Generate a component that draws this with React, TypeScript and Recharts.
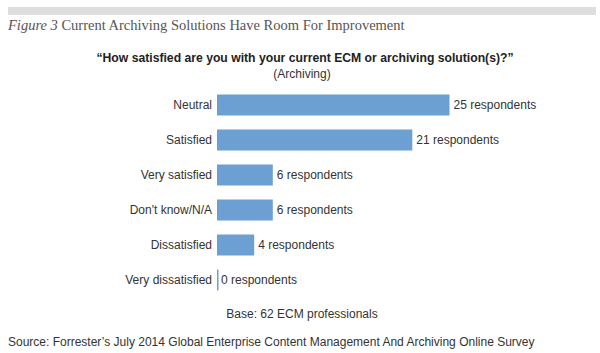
import { BarChart, Bar, XAxis, YAxis, LabelList } from 'recharts';

const categories = ['Neutral', 'Satisfied', 'Very satisfied', "Don't know/N/A", 'Dissatisfied', 'Very dissatisfied'];
const respondents = [25, 21, 6, 6, 4, 0];

const data = categories.map((name, i) => ({ name, value: respondents[i] }));

const BAR_COLOR = '#6ca0d2';
const SANS = 'Arial, "Liberation Sans", sans-serif';

// zero-value bars still show a thin line at the axis
const BarShape = (props: any) => {
  const { x, y, width, height, fill } = props;
  const w = Math.max(width || 0, 1.5);
  return <rect x={x} y={y} width={w} height={height} fill={fill} />;
};

export default function App() {
  return (
    <div style={{ position: 'absolute', left: 0, top: 0, width: 600, height: 353, background: '#fff', fontFamily: SANS }}>
      <div style={{ position: 'absolute', left: 8, top: 7, width: 588, height: 8, background: '#dedede' }} />
      <div
        style={{
          position: 'absolute',
          left: 8,
          top: 17,
          fontFamily: '"Liberation Serif", serif',
          fontSize: 14.5,
          color: '#555',
          whiteSpace: 'nowrap',
        }}
      >
        <i>Figure 3</i> Current Archiving Solutions Have Room For Improvement
      </div>
      <div
        style={{
          position: 'absolute',
          left: 0,
          top: 51,
          width: 610,
          textAlign: 'center',
          fontSize: 12.2,
          fontWeight: 'bold',
          color: '#222',
        }}
      >
        “How satisfied are you with your current ECM or archiving solution(s)?”
      </div>
      <div style={{ position: 'absolute', left: 0, top: 67, width: 604, textAlign: 'center', fontSize: 12, color: '#333' }}>
        (Archiving)
      </div>

      <div style={{ position: 'absolute', left: 0, top: 0 }}>
        <BarChart
          width={600}
          height={353}
          data={data}
          layout="vertical"
          barSize={21}
          margin={{ top: 87.5, right: 104, bottom: 55.5, left: 0 }}
        >
          <XAxis type="number" domain={[0, 30]} hide />
          <YAxis
            type="category"
            dataKey="name"
            width={217}
            axisLine={false}
            tickLine={false}
            tickSize={0}
            tickMargin={5}
            interval={0}
            tick={{ fontSize: 12, fill: '#333', fontFamily: SANS }}
          />
          <Bar dataKey="value" fill={BAR_COLOR} shape={<BarShape />} isAnimationActive={false}>
            <LabelList
              dataKey="value"
              position="right"
              offset={4}
              formatter={(v: any) => `${v} respondents`}
              style={{ fontSize: 12, fill: '#333', fontFamily: SANS }}
            />
          </Bar>
        </BarChart>
      </div>

      <div style={{ position: 'absolute', left: 0, top: 307, width: 604, textAlign: 'center', fontSize: 12, color: '#333' }}>
        Base: 62 ECM professionals
      </div>
      <div style={{ position: 'absolute', left: 8, top: 335, fontSize: 12, color: '#333', whiteSpace: 'nowrap' }}>
        Source: Forrester’s July 2014 Global Enterprise Content Management And Archiving Online Survey
      </div>
    </div>
  );
}
